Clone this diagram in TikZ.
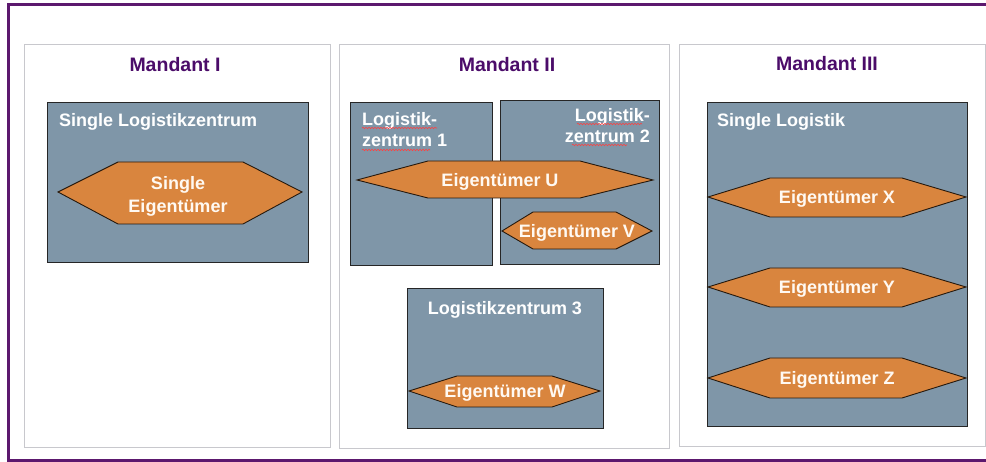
\documentclass[tikz,border=0pt]{standalone}
\usepackage{fontspec}
\setmainfont{Liberation Sans}
\usetikzlibrary{decorations.pathmorphing}
\definecolor{mandantlila}{RGB}{75,12,105}
\definecolor{rahmenlila}{RGB}{92,24,110}
\definecolor{lzgrau}{RGB}{127,150,168}
\definecolor{eignerorange}{RGB}{217,133,62}
\definecolor{panelgrau}{RGB}{200,200,205}
\tikzset{
  panel/.style={draw=panelgrau, line width=1pt, fill=white},
  lzbox/.style={draw=black!85, line width=1pt, fill=lzgrau},
  hexa/.style={draw=black!80!brown, line width=0.9pt, fill=eignerorange},
  titel/.style={text=mandantlila, font=\fontsize{19.5}{22}\selectfont\bfseries, inner sep=0pt},
  lzlabel/.style={text=white, font=\fontsize{18}{21.5}\selectfont\bfseries, inner sep=0pt},
  hextext/.style={text=white!95!orange, font=\fontsize{18}{23}\selectfont\bfseries, inner sep=0pt},
  kringel/.style={draw=red!75, line width=0.6pt, decorate, decoration={snake, segment length=3pt, amplitude=0.7pt}}
}
\begin{document}
\begin{tikzpicture}[x=1pt,y=-1pt]
\useasboundingbox (0,0) rectangle (986,462);
\clip (0,0) rectangle (986,462);
\fill[white] (0,0) rectangle (986,462);
\draw[rahmenlila, line width=3pt] (8,5) rectangle (995,460);
% Mandant I
\draw[panel] (24,45) rectangle (330,447);
\node[titel] (m1) at (175,65) {Mandant I};
\draw[lzbox] (47,103) rectangle (308,263);
\node[lzlabel, anchor=base west] (lz1) at (59,127) {Single Logistikzentrum};
\draw[hexa] (58,192) -- (118,162) -- (243,162) -- (302,192) -- (243,224) -- (118,224) -- cycle;
\node[hextext, anchor=base, align=center] (e1) at (178,213) {Single\\Eigentümer};
% Mandant II
\draw[panel] (339,45) rectangle (669,448);
\node[titel] (m2) at (507,65) {Mandant II};
\draw[lzbox] (350,103) rectangle (492,266);
\draw[lzbox] (500,101) rectangle (659,265);
\node[lzlabel, anchor=north west, align=left] (lz21) at (362,112) {Logistik-\\zentrum 1};
\node[lzlabel, anchor=north east, align=right] (lz22) at (650,108) {Logistik-\\zentrum 2};
\draw[kringel] (362,128) -- (437,128);
\draw[kringel] (362,150) -- (430,150);
\draw[kringel] (577,124) -- (642,124);
\draw[kringel] (572,145) -- (627,145);
\draw[hexa] (357,180) -- (428,161) -- (580,161) -- (653,180) -- (580,198) -- (428,198) -- cycle;
\node[hextext, anchor=base] (eu) at (500,187) {Eigentümer U};
\draw[hexa] (502,231) -- (533,212) -- (616,212) -- (652,231) -- (616,249) -- (533,249) -- cycle;
\node[hextext, anchor=base] (ev) at (577,238) {Eigentümer V};
\draw[lzbox] (407,289) rectangle (603,429);
\node[lzlabel, anchor=base] (lz23) at (505,315) {Logistikzentrum 3};
\draw[hexa] (409,391) -- (457,376) -- (552,376) -- (600,391) -- (552,407) -- (457,407) -- cycle;
\node[hextext, anchor=base] (ew) at (505,398) {Eigentümer W};
% Mandant III
\draw[panel] (679,45) rectangle (985,446);
\node[titel] (m3) at (827,64) {Mandant III};
\draw[lzbox] (707,103) rectangle (967,427);
\node[lzlabel, anchor=base west] (lz3) at (717,127) {Single Logistik};
\draw[hexa] (708,197) -- (770,178) -- (902,178) -- (966,197) -- (902,217) -- (770,217) -- cycle;
\node[hextext, anchor=base] (ex) at (837,204) {Eigentümer X};
\draw[hexa] (708,287) -- (770,268) -- (902,268) -- (966,287) -- (902,307) -- (770,307) -- cycle;
\node[hextext, anchor=base] (ey) at (837,294) {Eigentümer Y};
\draw[hexa] (708,378) -- (770,358) -- (902,358) -- (966,378) -- (902,398) -- (770,398) -- cycle;
\node[hextext, anchor=base] (ez) at (837,385) {Eigentümer Z};
\end{tikzpicture}
\end{document}
